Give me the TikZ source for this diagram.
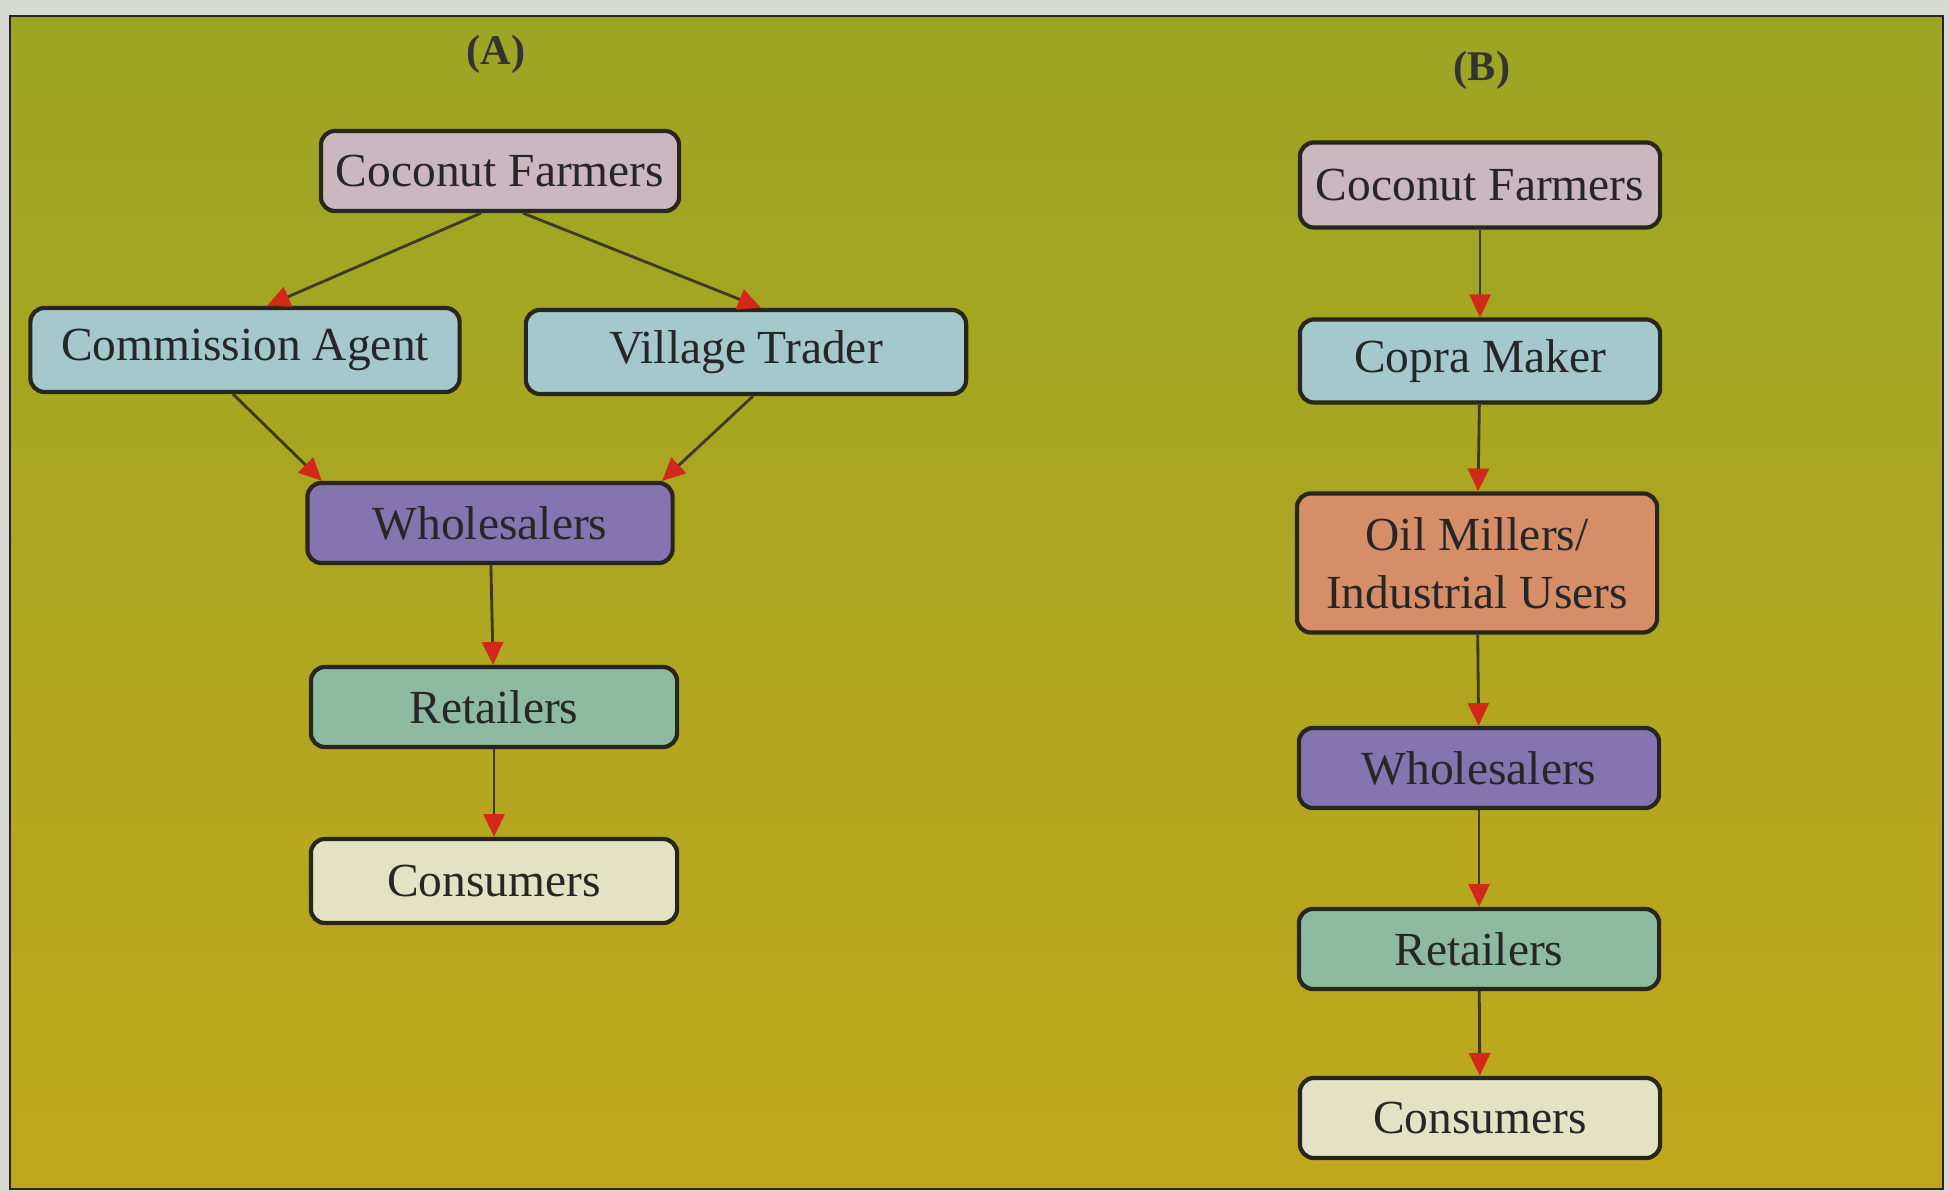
\documentclass[tikz,border=0pt]{standalone}
\usepackage{fontspec}
\setmainfont{Liberation Serif}
\usetikzlibrary{arrows.meta}
\definecolor{olivetop}{RGB}{155,165,36}
\definecolor{olivebot}{RGB}{192,168,28}
\definecolor{framegray}{RGB}{214,218,210}
\definecolor{farmpink}{RGB}{202,183,192}
\definecolor{tradeblue}{RGB}{164,200,204}
\definecolor{wholepurple}{RGB}{132,116,176}
\definecolor{retailgreen}{RGB}{142,186,162}
\definecolor{consumcream}{RGB}{228,226,196}
\definecolor{millsalmon}{RGB}{214,142,104}
\definecolor{arrowred}{RGB}{210,40,25}
\definecolor{arrowline}{RGB}{60,58,28}
\definecolor{boxline}{RGB}{40,38,24}
\begin{document}
\begin{tikzpicture}[x=0.01cm, y=-0.01cm,
  box/.style={shape=rectangle, rounded corners=4pt, draw=boxline, line width=1.2pt, minimum width=3.6cm, minimum height=0.8cm, align=center, text=black!85, font=\fontsize{13.5}{16.5}\selectfont},
  flow/.style={-{Triangle[color=arrowred, length=6.5pt, width=6pt]}, draw=arrowline, line width=0.8pt},
  title/.style={font=\bfseries\fontsize{12}{14}\selectfont, text=black!80}]
\useasboundingbox (0,0) rectangle (1949,1192);
\fill[framegray] (0,0) rectangle (1949,1192);
\shadedraw[top color=olivetop, bottom color=olivebot, draw=boxline, line width=0.8pt] (10,16) rectangle (1943,1189);
\node[title] (la) at (496,54) {(A)};
\node[title] (lb) at (1482,70) {(B)};
\node[box, fill=farmpink, minimum width=3.58cm] (cfa) at (500,171) {Coconut Farmers};
\node[box, fill=tradeblue, minimum width=4.29cm, minimum height=0.84cm] (ca) at (245,350) {Commission Agent};
\node[box, fill=tradeblue, minimum width=4.4cm, minimum height=0.84cm] (vt) at (746,352) {Village Trader};
\node[box, fill=wholepurple, minimum width=3.65cm] (wha) at (490,523) {Wholesalers};
\node[box, fill=retailgreen, minimum width=3.66cm] (rea) at (494,707) {Retailers};
\node[box, fill=consumcream, minimum width=3.66cm, minimum height=0.84cm] (coa) at (494,881) {Consumers};
\node[box, fill=farmpink, minimum height=0.85cm] (cfb) at (1480,185) {Coconut Farmers};
\node[box, fill=tradeblue, minimum height=0.83cm] (cm) at (1480,361) {Copra Maker};
\node[box, fill=millsalmon, minimum height=1.39cm] (om) at (1477,563) {Oil Millers/\\Industrial Users};
\node[box, fill=wholepurple] (whb) at (1479,768) {Wholesalers};
\node[box, fill=retailgreen] (reb) at (1479,949) {Retailers};
\node[box, fill=consumcream] (cob) at (1480,1118) {Consumers};
\path ([xshift=-0.19cm]cfa.south) edge [flow] ([xshift=0.22cm]ca.north);
\path ([xshift=0.23cm]cfa.south) edge [flow] ([xshift=0.15cm]vt.north);
\path ([xshift=-0.12cm]ca.south) edge [flow] ([xshift=-1.68cm]wha.north);
\path ([xshift=0.07cm]vt.south) edge [flow] ([xshift=1.72cm]wha.north);
\path (wha) edge [flow] (rea);
\path (rea) edge [flow] (coa);
\path (cfb) edge [flow] (cm);
\path (cm) edge [flow] (om);
\path (om) edge [flow] (whb);
\path (whb) edge [flow] (reb);
\path (reb) edge [flow] (cob);
\end{tikzpicture}
\end{document}
